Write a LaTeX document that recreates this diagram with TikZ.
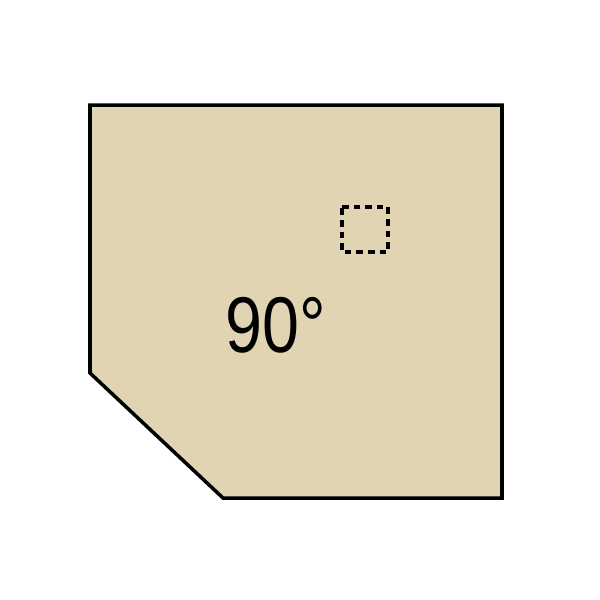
\documentclass[tikz,border=0pt]{standalone}
\usepackage{fontspec}
\setmainfont{Liberation Sans}
\definecolor{panel}{RGB}{224,212,178}
\def\outline{2pt}
\def\corner{(90,105) -- (502,105) -- (502,498) -- (223,498) -- (90,373) -- cycle}

\begin{document}
\begin{tikzpicture}[x=0.02cm, y=-0.02cm, nodes = {font=\fontsize{45}{50}\selectfont}]
\useasboundingbox (0,0) rectangle (600,600);
% the table top, cut off at one corner
\filldraw[fill=panel, draw=black, line width=\outline, line join=miter] \corner;
% dashed marker
\coordinate (m1) at (342,207);
\coordinate (m2) at (388,252);
\draw[line width=1.8pt, dash pattern=on 3.8pt off 2.8pt, dash phase=-0.8pt] (m1) rectangle (m2);
% angle label
\node[anchor=base, inner sep=0pt] (angle) at (276,352) {\scalebox{0.84}[1]{90°}};
\end{tikzpicture}
\end{document}
